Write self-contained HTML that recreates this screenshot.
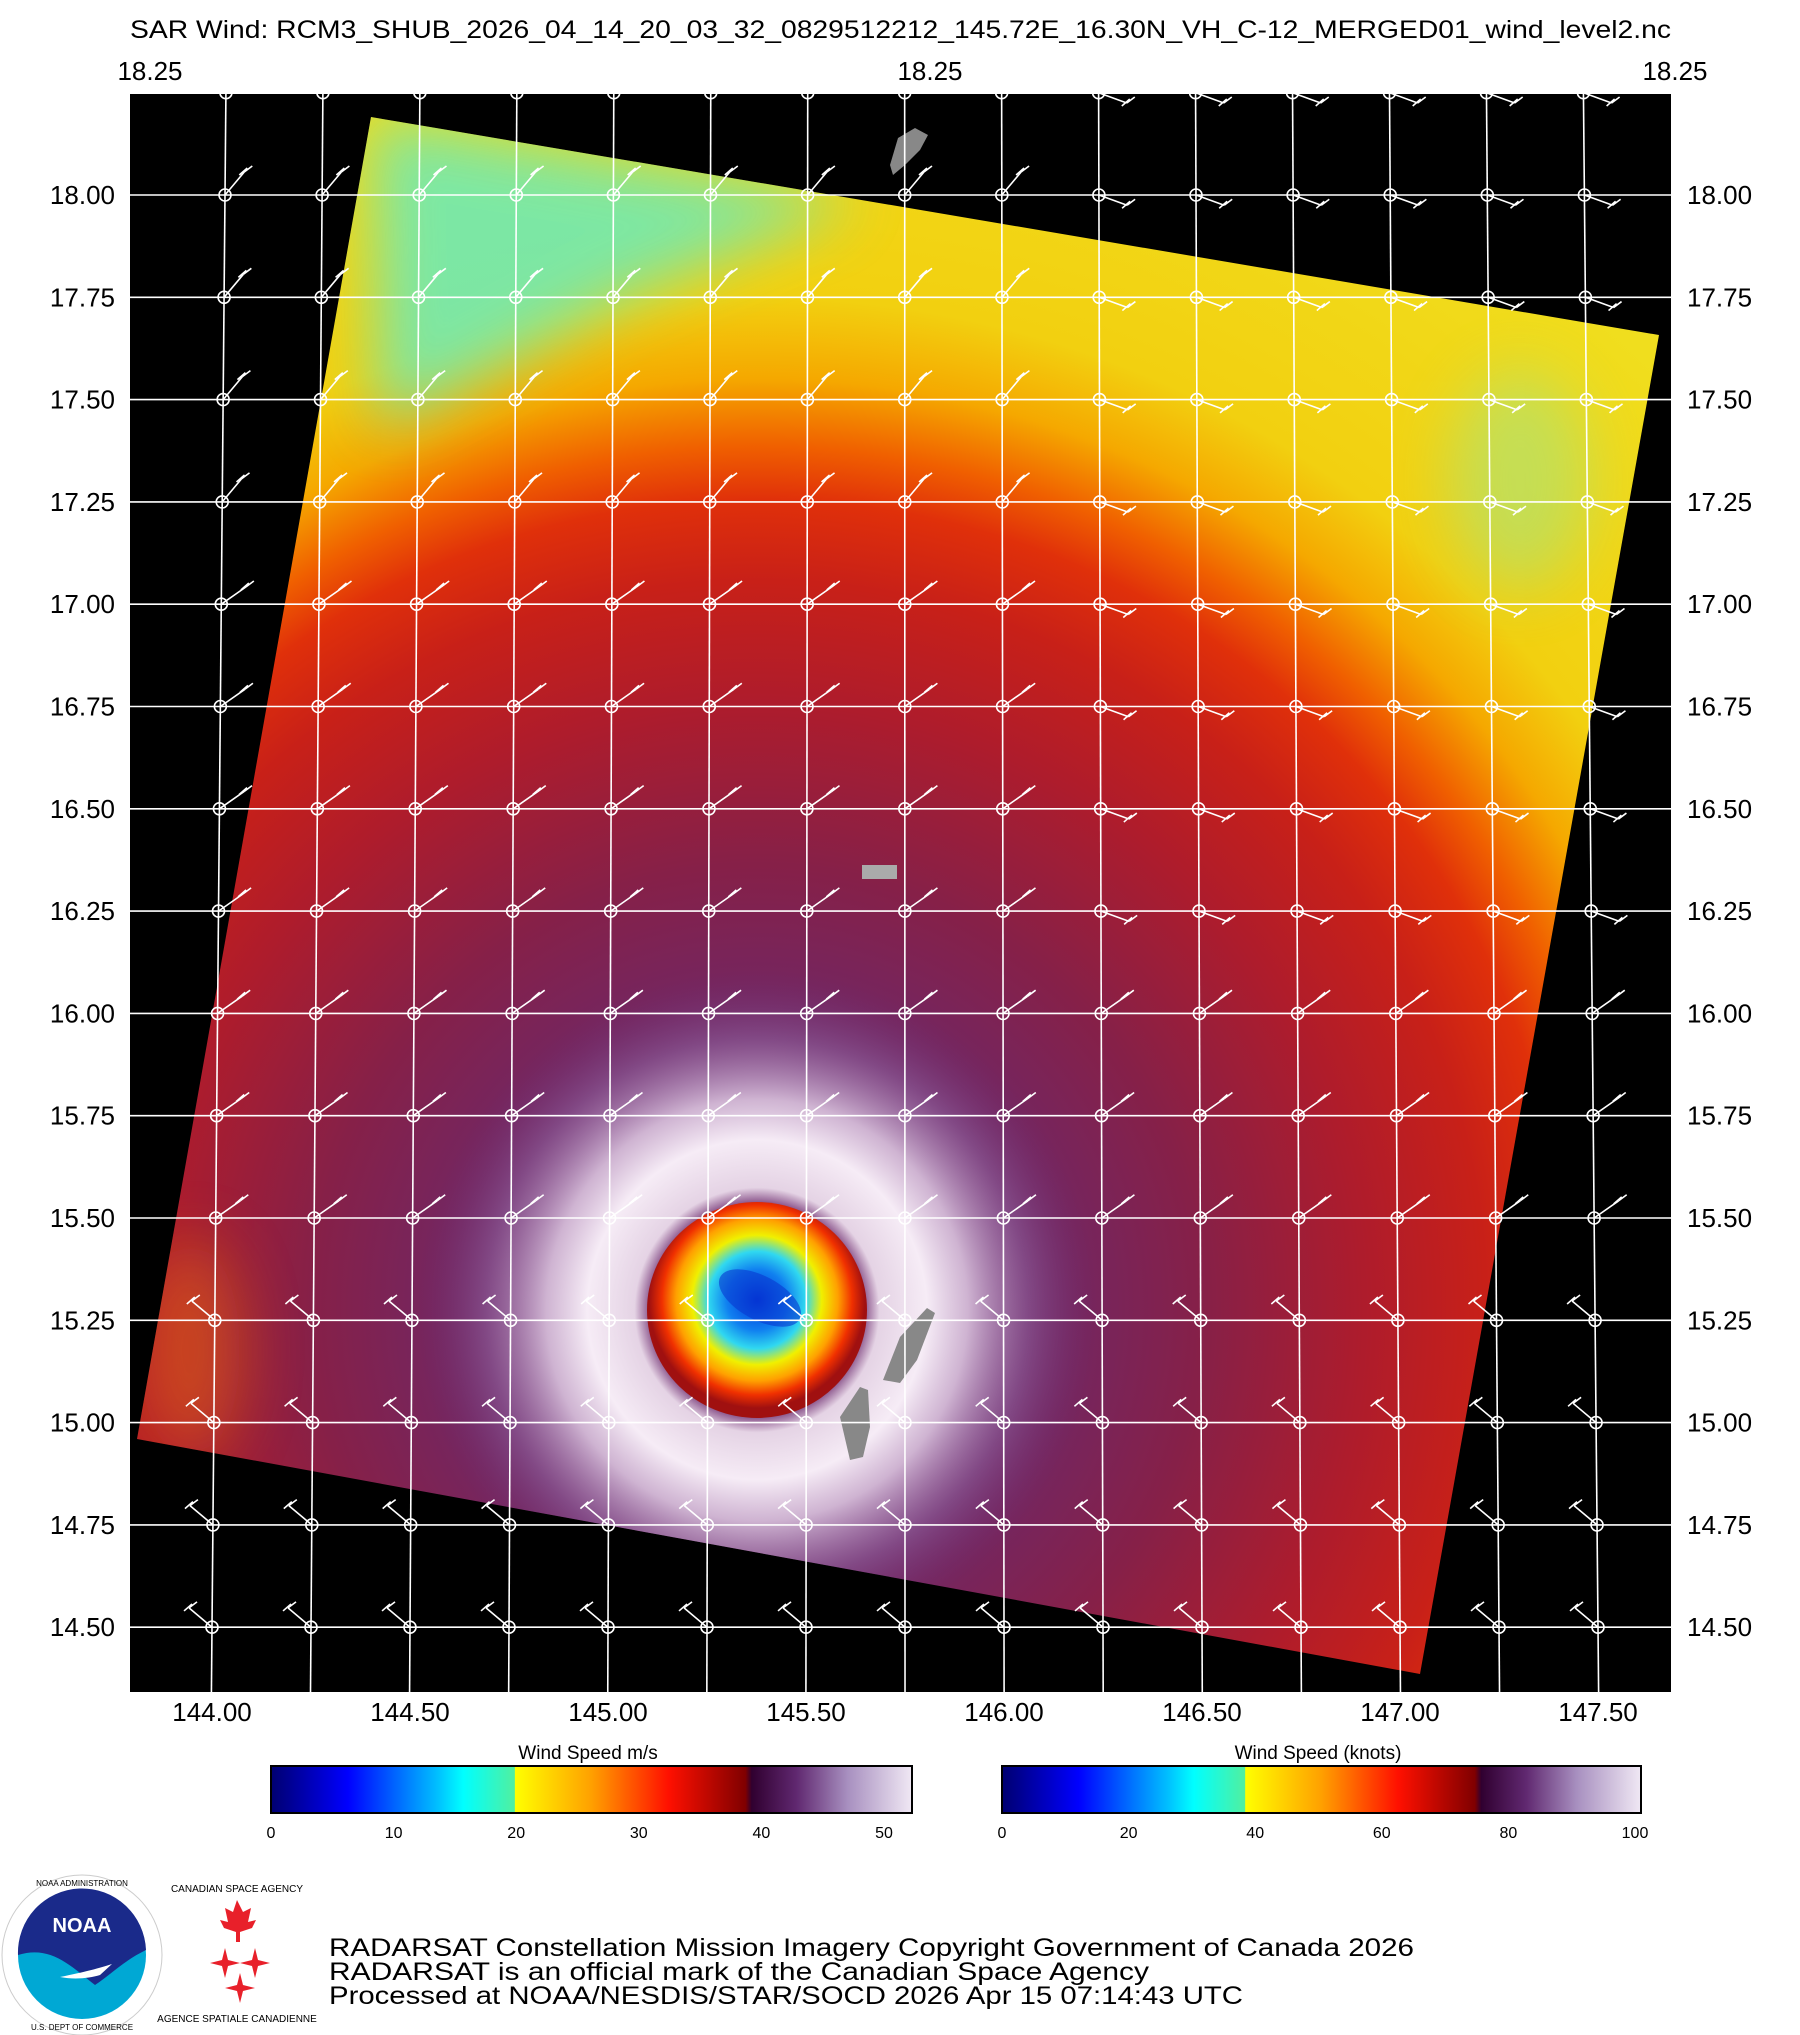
<!DOCTYPE html>
<html><head><meta charset="utf-8">
<style>
html,body{margin:0;padding:0;background:#fff;}
body{width:1800px;height:2035px;overflow:hidden;position:relative;font-family:"Liberation Sans",sans-serif;}
svg{position:absolute;left:0;top:0;}
</style></head>
<body>
<svg id="s" width="1800" height="2035" viewBox="0 0 1800 2035" xmlns="http://www.w3.org/2000/svg">
<defs>
<clipPath id="sw"><polygon points="371,117 1659,335 1420,1674 137,1439"/></clipPath>
<radialGradient id="base" gradientUnits="userSpaceOnUse" cx="757" cy="1310" r="1350">
<stop offset="0" stop-color="#6a2a70"/>
<stop offset="0.2" stop-color="#6e2868"/>
<stop offset="0.33" stop-color="#862048"/>
<stop offset="0.45" stop-color="#ae1c2c"/>
<stop offset="0.54" stop-color="#c82018"/>
<stop offset="0.6" stop-color="#e0300a"/>
<stop offset="0.64" stop-color="#f06000"/>
<stop offset="0.69" stop-color="#f5a800"/>
<stop offset="0.75" stop-color="#f2d010"/>
<stop offset="1" stop-color="#f0e020"/>
</radialGradient>
<radialGradient id="core" gradientUnits="userSpaceOnUse" cx="757" cy="1300" r="108">
<stop offset="0" stop-color="#0030d8"/>
<stop offset="0.28" stop-color="#1080f0"/>
<stop offset="0.45" stop-color="#30d8f0"/>
<stop offset="0.6" stop-color="#f0f000"/>
<stop offset="0.75" stop-color="#ffa000"/>
<stop offset="0.88" stop-color="#f03000"/>
<stop offset="1" stop-color="#a01010"/>
</radialGradient>
<radialGradient id="ring" gradientUnits="userSpaceOnUse" cx="757" cy="1310" r="340">
<stop offset="0.3" stop-color="#f2e6f2" stop-opacity="0"/>
<stop offset="0.36" stop-color="#f2e6f2" stop-opacity="0.9"/>
<stop offset="0.5" stop-color="#f6ecf6" stop-opacity="1"/>
<stop offset="0.62" stop-color="#e0cce4" stop-opacity="0.85"/>
<stop offset="0.8" stop-color="#9a70a8" stop-opacity="0.45"/>
<stop offset="1" stop-color="#6a2a70" stop-opacity="0"/>
</radialGradient>
<filter id="bl" x="-100%" y="-100%" width="300%" height="300%"><feGaussianBlur stdDeviation="30"/></filter>
</defs>
<rect x="130" y="94" width="1541" height="1598" fill="#000"/>
<g clip-path="url(#sw)">
<rect x="100" y="90" width="1600" height="1620" fill="url(#base)"/>
<polygon points="371,117 860,200 620,300 380,430" fill="#60ecc8" opacity="0.8" filter="url(#bl)"/>
<ellipse cx="1520" cy="480" rx="70" ry="110" fill="#90e8a0" opacity="0.45" filter="url(#bl)"/>
<ellipse cx="190" cy="1350" rx="50" ry="110" fill="#f07010" opacity="0.5" filter="url(#bl)"/>
<circle cx="757" cy="1310" r="340" fill="url(#ring)"/>
<ellipse cx="757" cy="1310" rx="110" ry="108" fill="url(#core)"/>
<ellipse cx="760" cy="1298" rx="45" ry="22" transform="rotate(28 760 1298)" fill="#0838d0" opacity="0.6"/>
</g>
<polygon points="840,1417 860,1387 868,1390 870,1427 863,1457 850,1460" fill="#888"/>
<polygon points="883,1380 900,1337 927,1308 935,1313 917,1360 900,1383" fill="#888"/>
<polygon points="898,138 915,128 928,135 920,150 905,165 893,175 890,165" fill="#888"/>
<rect x="862" y="865" width="35" height="14" fill="#aaa"/>
<g id="grid" stroke="#fff" stroke-width="1.6" fill="none"></g>
<g font-family="Liberation Sans, sans-serif" fill="#000">
<text x="130" y="38" font-size="25" textLength="1541" lengthAdjust="spacingAndGlyphs">SAR Wind: RCM3_SHUB_2026_04_14_20_03_32_0829512212_145.72E_16.30N_VH_C-12_MERGED01_wind_level2.nc</text>
<text x="150" y="80" font-size="26" text-anchor="middle">18.25</text>
<text x="930" y="80" font-size="26" text-anchor="middle">18.25</text>
<text x="1675" y="80" font-size="26" text-anchor="middle">18.25</text>
<g id="ylab" font-size="26"></g>
<g id="xlab" font-size="26" text-anchor="middle"></g>
<text x="588" y="1759" font-size="19" text-anchor="middle">Wind Speed m/s</text>
<text x="1318" y="1759" font-size="19" text-anchor="middle">Wind Speed (knots)</text>
<g font-size="16" text-anchor="middle" id="cb"></g>
<text x="329" y="1956" font-size="25" textLength="1085" lengthAdjust="spacingAndGlyphs">RADARSAT Constellation Mission Imagery Copyright Government of Canada 2026</text>
<text x="329" y="1980" font-size="25" textLength="820" lengthAdjust="spacingAndGlyphs">RADARSAT is an official mark of the Canadian Space Agency</text>
<text x="329" y="2004" font-size="25" textLength="914" lengthAdjust="spacingAndGlyphs">Processed at NOAA/NESDIS/STAR/SOCD 2026 Apr 15 07:14:43 UTC</text>
</g>
<defs>
<linearGradient id="c1" x1="0" x2="1">
<stop offset="0" stop-color="#000070"/><stop offset="0.12" stop-color="#0000ff"/>
<stop offset="0.26" stop-color="#00c0ff"/><stop offset="0.3" stop-color="#00ffff"/>
<stop offset="0.38" stop-color="#50f0a0"/><stop offset="0.381" stop-color="#ffff00"/>
<stop offset="0.5" stop-color="#ffa000"/><stop offset="0.62" stop-color="#ff1000"/>
<stop offset="0.74" stop-color="#800000"/><stop offset="0.75" stop-color="#300030"/>
<stop offset="0.82" stop-color="#602870"/><stop offset="0.9" stop-color="#a890c0"/>
<stop offset="1" stop-color="#f0e8f4"/>
</linearGradient>
</defs>
<rect x="271" y="1766" width="641" height="47" fill="url(#c1)" stroke="#000" stroke-width="2"/>
<rect x="1002" y="1766" width="639" height="47" fill="url(#c1)" stroke="#000" stroke-width="2"/>
<!-- NOAA logo -->
<circle cx="82" cy="1955" r="80" fill="#fff" stroke="#ccc" stroke-width="1"/>
<circle cx="82" cy="1955" r="64" fill="#00a8d4"/>
<path d="M18,1955 A64,64 0 0 1 146,1950 C125,1960 110,1975 95,1985 C70,1965 50,1945 18,1955 Z" fill="#1a2a8a"/>
<path d="M60,1977 C85,1972 100,1968 112,1964 L100,1975 C90,1978 75,1980 60,1977Z" fill="#fff"/>
<text x="82" y="1932" font-size="20" font-weight="bold" fill="#fff" text-anchor="middle" font-family="Liberation Sans, sans-serif">NOAA</text>
<text x="82" y="1886" font-size="8" fill="#000" text-anchor="middle" font-family="Liberation Sans, sans-serif">NOAA ADMINISTRATION</text>
<text x="82" y="2030" font-size="8" fill="#000" text-anchor="middle" font-family="Liberation Sans, sans-serif">U.S. DEPT OF COMMERCE</text>
<!-- CSA logo -->
<text x="237" y="1892" font-size="10" fill="#000" text-anchor="middle" font-family="Liberation Sans, sans-serif">CANADIAN SPACE AGENCY</text>
<text x="237" y="2022" font-size="10" fill="#000" text-anchor="middle" font-family="Liberation Sans, sans-serif">AGENCE SPATIALE CANADIENNE</text>
<path d="M237,1900 l6,12 8,-4 -3,14 8,-2 -4,8 -12,4 0,10 -4,0 0,-10 -12,-4 -4,-8 8,2 -3,-14 8,4z" fill="#e8202a"/>
<g fill="#e8202a">
<path d="M222,1960 l3,-12 3,12 12,3 -12,3 -3,12 -3,-12 -12,-3z"/>
<path d="M252,1960 l3,-12 3,12 12,3 -12,3 -3,12 -3,-12 -12,-3z"/>
<path d="M237,1985 l3,-12 3,12 12,3 -12,3 -3,12 -3,-12 -12,-3z"/>
</g>
</svg>
<script>
var NS="http://www.w3.org/2000/svg",g=document.getElementById('grid');
function el(t,a,p){var e=document.createElementNS(NS,t);for(var k in a)e.setAttribute(k,a[k]);(p||g).appendChild(e);return e;}
function X(k,y){var xb=212+99*k,xt=225+97.1*k;return xb+(xt-xb)*(1627-y)/1432;}
function Y(j){return 195+102.3*j;}
for(var k=-1;k<=15;k++){var x1=X(k,94),x2=X(k,1692);if(x1<130&&x2<130)continue;if(x1>1671&&x2>1671)continue;el('line',{x1:x1,y1:94,x2:x2,y2:1692});}
for(var j=-1;j<=14;j++){el('line',{x1:130,y1:Y(j),x2:1671,y2:Y(j)});}
for(var k=0;k<=14;k++)for(var j=-1;j<=14;j++){var y=Y(j),x=X(k,y);
 el('circle',{cx:x,cy:y,r:6});
 var ang=(j<4?-50:(j<11?-35:-140))*Math.PI/180;if(k>8&&j<8)ang=20*Math.PI/180;
 var ex=x+30*Math.cos(ang),ey=y+30*Math.sin(ang);el('line',{x1:x,y1:y,x2:ex,y2:ey});
 el('line',{x1:ex,y1:ey,x2:ex+8,y2:ey-6});el('line',{x1:ex-5,y1:ey+3,x2:ex+3,y2:ey-4});}
var yl=document.getElementById('ylab'),xl=document.getElementById('xlab'),cb=document.getElementById('cb');
var labs=['18.00','17.75','17.50','17.25','17.00','16.75','16.50','16.25','16.00','15.75','15.50','15.25','15.00','14.75','14.50'];
labs.forEach(function(t,i){var y=195+102.3*i+9;el('text',{x:115,y:y,'text-anchor':'end'},yl).textContent=t;el('text',{x:1687,y:y},yl).textContent=t;});
['144.00','144.50','145.00','145.50','146.00','146.50','147.00','147.50'].forEach(function(t,i){el('text',{x:212+198*i,y:1721},xl).textContent=t;});
[0,10,20,30,40,50].forEach(function(v){el('text',{x:271+v*12.26,y:1838},cb).textContent=v;});
[0,20,40,60,80,100].forEach(function(v){el('text',{x:1002+v*6.33,y:1838},cb).textContent=v;});
</script>
</body></html>
